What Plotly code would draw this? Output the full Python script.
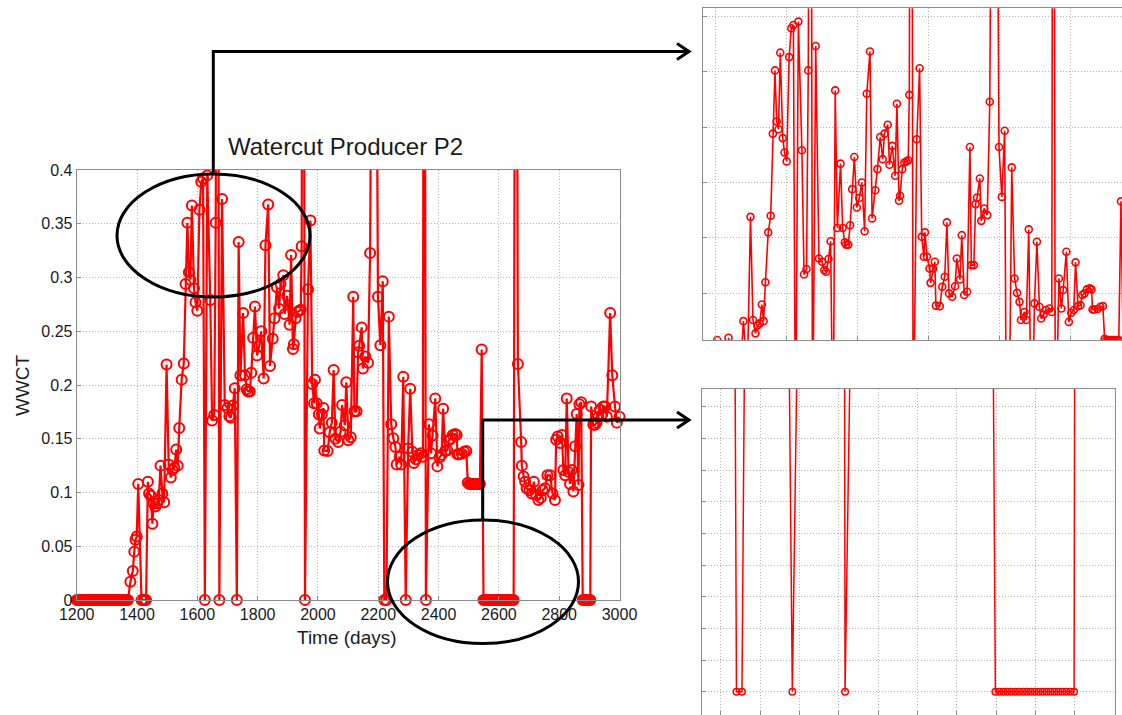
import plotly.graph_objects as go

# ---------------- data ----------------
days = [1200, 1205, 1210, 1215, 1220, 1225, 1230, 1235, 1240, 1245, 1250, 1255, 1260, 1265, 1270, 1275,
        1280, 1285, 1290, 1295, 1300, 1305, 1310, 1315, 1320, 1325, 1330, 1335, 1340, 1345, 1350, 1355,
        1360, 1365, 1370,
        1378, 1386, 1391, 1395, 1399, 1404,
        1415, 1420, 1425, 1430,
        1436, 1440, 1446, 1451, 1455, 1461, 1467, 1472, 1478, 1484, 1490, 1498,
        1505, 1512, 1518, 1524, 1530, 1535, 1540, 1548, 1555, 1561, 1567, 1572, 1577, 1582, 1589, 1594,
        1600, 1607, 1613, 1619, 1625, 1633, 1643, 1649, 1656, 1661, 1667, 1673, 1682, 1691, 1700, 1706,
        1711, 1718, 1724, 1731, 1737, 1743, 1752, 1758, 1764, 1768, 1774, 1779, 1785, 1791, 1798, 1805,
        1812, 1820, 1826, 1835, 1841, 1850, 1856, 1864, 1871, 1876, 1885, 1890, 1898, 1906, 1911, 1917,
        1920, 1926, 1932, 1938, 1943, 1946, 1951, 1957, 1967, 1975, 1981, 1987, 1990, 1996, 2003, 2006,
        2013, 2018, 2021, 2032, 2039, 2046, 2052, 2058, 2067, 2075, 2080, 2089, 2094, 2101, 2109, 2117,
        2121, 2128, 2133, 2137, 2145, 2149, 2157, 2166, 2173, 2186, 2199, 2207, 2215, 2220, 2227, 2235,
        2243, 2250, 2257, 2261, 2271, 2276, 2283, 2291, 2299, 2306, 2313, 2318, 2325, 2332, 2341, 2348,
        2352, 2358, 2368, 2375, 2380, 2389, 2396, 2403, 2410, 2415, 2422, 2429, 2434, 2440, 2447, 2455,
        2460, 2463, 2468, 2477, 2485, 2492, 2497, 2502, 2507, 2512, 2517, 2522, 2527, 2532, 2537, 2543,
        2549, 2554, 2559, 2564, 2569, 2574, 2579, 2584, 2589, 2594, 2599, 2604, 2609, 2614, 2619, 2624,
        2629, 2634, 2639, 2644, 2649, 2656, 2663, 2674, 2676, 2682, 2687, 2692, 2701, 2709, 2716, 2723,
        2731, 2739, 2745, 2753, 2761, 2770, 2778, 2786, 2790, 2795, 2803, 2809, 2814, 2820, 2825, 2831,
        2836, 2842, 2847, 2853, 2858, 2864, 2867, 2873, 2878, 2883, 2888, 2893, 2898, 2903, 2906, 2913,
        2919, 2924, 2930, 2935, 2941, 2946, 2952, 2958, 2969, 2976, 2985, 2991, 3000]

wwct = [0, 0, 0, 0, 0, 0, 0, 0, 0, 0, 0, 0, 0, 0, 0, 0,
        0, 0, 0, 0, 0, 0, 0, 0, 0, 0, 0, 0, 0, 0, 0, 0,
        0, 0, 0,
        0.017, 0.027, 0.045, 0.056, 0.059, 0.108,
        0, 0, 0, 0,
        0.110, 0.099, 0.097, 0.071, 0.090, 0.087, 0.090, 0.093, 0.125, 0.099, 0.091, 0.219,
        0.126, 0.114, 0.121, 0.123, 0.140, 0.125, 0.160, 0.205, 0.220, 0.294, 0.351, 0.305, 0.298, 0.367, 0.290, 0.277,
        0.269, 0.363, 0.389, 0.392, 0, 0.395, 0.279, 0.167, 0.172, 0.351, 1.0, 0, 0.373, 0.1815, 0.1785, 0.171,
        0.1695, 0.181, 0.197, 0, 0.333, 0.209, 0.267, 0.209, 0.196, 0.194, 0.194, 0.2115, 0.244, 0.273, 0.2275, 0.236,
        0.250, 0.206, 0.330, 0.368, 0.2176, 0.243, 0.262, 0.291, 0.271, 0.294, 0.302, 0.266, 0.283, 0.256, 0.321, 0.2335,
        0.238, 0.262, 0.268, 0.269, 0.270, 0.329, 1.0, 0, 0.289, 0.353, 0.201, 0.183, 0.205, 0.183, 0.1725, 0.1595,
        0.1725, 0.1785, 0.139, 0.1385, 0.156, 0.165, 0.214, 0.150, 0.147, 0.1565, 0.1815, 0.1625, 0.2025, 0.1485, 0.1515, 0.282,
        0.1755, 0.1755, 0.2305, 0.2365, 0.2536, 0.2154, 0.2266, 0.2206, 0.3227, 1.0, 0.282, 0.237, 0.2966, 0, 0, 0.2636,
        0.1635, 0.1505, 0.1424, 0.126, 0.1333, 0.126, 0.2077, 0, 0.141, 0.1965, 0.138, 0.1274, 0.131, 0.135, 0.1364, 0.1333,
        1.0, 0, 0.1635, 0.1364, 0.153, 0.1875, 0.1243, 0.1325, 0.135, 0.178, 0.1385, 0.1394, 0.1485, 0.150, 0.1536, 0.1545,
        0.1536, 0.1355, 0.1355, 0.136, 0.138, 0.1385, 0.109, 0.108, 0.108, 0.108, 0.108, 0.108, 0.108, 0.108, 0.108, 0.233,
        0, 0, 0, 0, 0, 0, 0, 0, 0, 0, 0, 0, 0, 0, 0, 0,
        0, 0, 0, 0, 0, 1.0, 0.2195, 0.147, 0.125, 0.115, 0.110, 0.104, 0.102, 0.099, 0.110, 0.098,
        0.093, 0.095, 0.102, 0.104, 0.116, 0.116, 0.099, 0.093, 0.149, 0.152, 0.146, 0.1535, 0.121, 0.116, 0.1875, 0.119,
        0.108, 0.121, 0.101, 0.143, 0.173, 0.107, 0.182, 0.184, 0, 0, 0, 0, 0, 0, 0.180, 0.163,
        0.163, 0.165, 0.1705, 0.177, 0.172, 0.180, 0.180, 0.1705, 0.267, 0.209, 0.180, 0.165, 0.1705]

x_ticks = [1200, 1400, 1600, 1800, 2000, 2200, 2400, 2600, 2800, 3000]
y_ticks = [0, 0.05, 0.1, 0.15, 0.2, 0.25, 0.3, 0.35, 0.4]
y_tick_labels = ["0", "0.05", "0.1", "0.15", "0.2", "0.25", "0.3", "0.35", "0.4"]

title_text = "Watercut Producer P2"
x_title = "Time (days)"
y_title = "WWCT"

# ---------------- layout helpers ----------------
W, H = 1122, 715


def px(x):
    return x / W


def py(y):
    return 1 - y / H


RED = "#ff0000"
FONT = "Arial, Liberation Sans, sans-serif"
GRID = "#b4b4b4"
FRAME = "#8c8c8c"
TXT = "#1a1a1a"

fig = go.Figure()

# main chart: line (clipped) + open-circle markers for the in-range points
fig.add_trace(go.Scatter(x=days, y=wwct, mode="lines", line=dict(color=RED, width=2.2),
                         xaxis="x", yaxis="y", hoverinfo="skip", showlegend=False))
mk_x = [d for d, v in zip(days, wwct) if v <= 0.4]
mk_y = [v for v in wwct if v <= 0.4]
fig.add_trace(go.Scatter(x=mk_x, y=mk_y, mode="markers",
                         marker=dict(symbol="circle-open", size=10, color=RED, line=dict(width=2, color=RED)),
                         cliponaxis=False, xaxis="x", yaxis="y", hoverinfo="skip", showlegend=False))

# top inset (zoom of upper region)
fig.add_trace(go.Scatter(x=days, y=wwct, mode="lines+markers", line=dict(color=RED, width=1.6),
                         marker=dict(symbol="circle-open", size=7, color=RED, line=dict(width=1.6, color=RED)),
                         cliponaxis=True, xaxis="x2", yaxis="y2", hoverinfo="skip", showlegend=False))

# bottom inset (zoom near zero)
fig.add_trace(go.Scatter(x=days, y=wwct, mode="lines+markers", line=dict(color=RED, width=1.5),
                         marker=dict(symbol="circle-open", size=6.5, color=RED, line=dict(width=1.5, color=RED)),
                         cliponaxis=True, xaxis="x3", yaxis="y3", hoverinfo="skip", showlegend=False))

axis_common = dict(showline=True, linecolor=FRAME, linewidth=1, mirror=True,
                   showgrid=True, gridcolor=GRID, griddash="1px,2px", gridwidth=1,
                   zeroline=False, ticks="inside", ticklen=4, tickcolor=FRAME,
                   automargin=False)

fig.update_layout(
    width=W, height=H,
    margin=dict(l=0, r=0, t=0, b=0),
    paper_bgcolor="white", plot_bgcolor="white",
    font=dict(family=FONT, color=TXT),
    xaxis=dict(domain=[px(76.7), px(619.5)], range=[1200, 3000], tickvals=x_ticks,
               tickfont=dict(size=16, color=TXT, family=FONT), anchor="y", **axis_common),
    yaxis=dict(domain=[py(600), py(170)], range=[0, 0.4], tickvals=y_ticks, ticktext=y_tick_labels,
               tickfont=dict(size=16, color=TXT, family=FONT), anchor="x", **axis_common),
    xaxis2=dict(domain=[px(703), 1.0], range=[1364, 2546], tick0=1400, dtick=200,
                showticklabels=False, anchor="y2", **axis_common),
    yaxis2=dict(domain=[py(340), py(8.3)], range=[0.108, 0.407], tick0=0, dtick=0.05,
                showticklabels=False, anchor="x2", **axis_common),
    xaxis3=dict(domain=[px(702.3), px(1115)], range=[2176.6, 2701], tick0=2200, dtick=50,
                showticklabels=False, anchor="y3", **axis_common),
    yaxis3=dict(domain=[0.0, py(389)], range=[-0.00736, 0.0956], tick0=0, dtick=0.01,
                showticklabels=False, anchor="x3", **axis_common),
)

# ellipses and connector arrows
BLACK = "black"
LW = 3
shapes = [
    dict(type="circle", xref="paper", yref="paper", x0=px(117), x1=px(310), y0=py(297), y1=py(174),
         line=dict(color=BLACK, width=LW)),
    dict(type="circle", xref="paper", yref="paper", x0=px(387.5), x1=px(578.5), y0=py(643.5), y1=py(520),
         line=dict(color=BLACK, width=LW)),
    dict(type="path", xref="paper", yref="paper",
         path=f"M {px(213.3)},{py(174)} L {px(213.3)},{py(51.5)} L {px(689)},{py(51.5)}",
         line=dict(color=BLACK, width=LW)),
    dict(type="path", xref="paper", yref="paper",
         path=f"M {px(677)},{py(43.5)} L {px(689)},{py(51.5)} L {px(677)},{py(59.5)}",
         line=dict(color=BLACK, width=LW)),
    dict(type="path", xref="paper", yref="paper",
         path=f"M {px(482.7)},{py(520)} L {px(482.7)},{py(420)} L {px(689)},{py(420)}",
         line=dict(color=BLACK, width=LW)),
    dict(type="path", xref="paper", yref="paper",
         path=f"M {px(677)},{py(412)} L {px(689)},{py(420)} L {px(677)},{py(428)}",
         line=dict(color=BLACK, width=LW)),
]
fig.update_layout(shapes=shapes)

annotations = [
    dict(text=title_text, x=px(346), y=py(146), xref="paper", yref="paper", showarrow=False,
         xanchor="center", yanchor="middle", font=dict(size=24, color=TXT, family=FONT)),
    dict(text=x_title, x=px(347), y=py(637), xref="paper", yref="paper", showarrow=False,
         xanchor="center", yanchor="middle", font=dict(size=19, color=TXT, family=FONT)),
    dict(text=y_title, x=px(22), y=py(385), xref="paper", yref="paper", showarrow=False, textangle=-90,
         xanchor="center", yanchor="middle", font=dict(size=19, color=TXT, family=FONT)),
]
fig.update_layout(annotations=annotations)

fig.write_html("out.html")
